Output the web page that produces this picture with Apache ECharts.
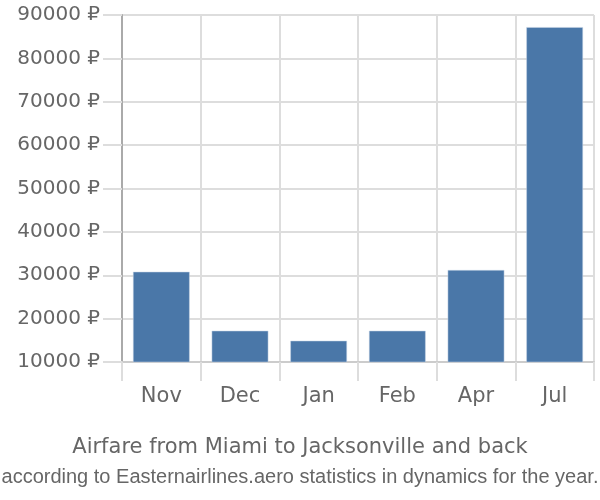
<!DOCTYPE html>
<html>
<head>
<meta charset="utf-8">
<script src="https://cdn.jsdelivr.net/npm/echarts@6/dist/echarts.min.js"></script>
<style>html,body{margin:0;padding:0;background:#fff}#c{width:600px;height:500px}</style>
</head>
<body>
<div id="c"></div>
<script>
const categories = ['Nov', 'Dec', 'Jan', 'Feb', 'Apr', 'Jul'];
const prices = [30800, 17200, 14900, 17200, 31200, 87200];
const yMin = 10000, yMax = 90000, yStep = 10000;
const titleText = 'Airfare from Miami to Jacksonville and back';
const subtitleText = 'according to Easternairlines.aero statistics in dynamics for the year.';

const chart = echarts.init(document.getElementById('c'), null, {renderer: 'canvas'});
chart.setOption({
  animation: false,
  textStyle: {fontFamily: 'DejaVu Sans, sans-serif'},
  title: [{
    text: titleText,
    left: 'center',
    top: 437,
    padding: 0,
    textStyle: {fontSize: 21, fontWeight: 'normal', color: '#666', fontFamily: 'DejaVu Sans'}
  }, {
    text: subtitleText,
    left: 'center',
    top: 467,
    padding: 0,
    textStyle: {fontSize: 20, fontWeight: 'normal', color: '#666', fontFamily: 'Liberation Sans'}
  }],
  grid: {left: 122, right: 6, top: 15, bottom: 138, containLabel: false},
  xAxis: {
    type: 'category',
    data: categories,
    axisLine: {show: true, lineStyle: {color: '#ccc', width: 2}},
    axisTick: {show: true, length: 19, lineStyle: {color: '#ddd', width: 2}},
    splitLine: {show: true, lineStyle: {color: '#ddd', width: 2}},
    axisLabel: {fontSize: 21, color: '#666', margin: 24, fontFamily: 'DejaVu Sans'}
  },
  yAxis: {
    type: 'value',
    min: yMin, max: yMax, interval: yStep,
    axisLine: {show: true, lineStyle: {color: '#aaa', width: 2}},
    axisTick: {show: true, length: 19, lineStyle: {color: '#ddd', width: 2}},
    splitLine: {show: true, lineStyle: {color: '#ddd', width: 2}},
    axisLabel: {fontSize: 20, color: '#666', margin: 22, fontFamily: 'DejaVu Sans', formatter: v => v + ' ₽'}
  },
  series: [{
    type: 'bar',
    data: prices,
    barCategoryGap: '28%',
    itemStyle: {color: '#4a77a8', borderColor: '#c9d6e6', borderWidth: 0.5}
  }]
});
</script>
</body>
</html>
